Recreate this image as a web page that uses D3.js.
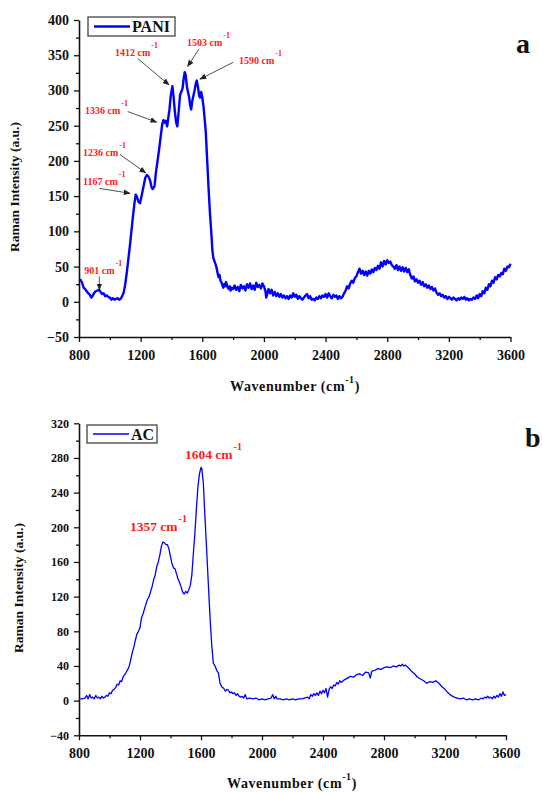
<!DOCTYPE html>
<html><head><meta charset="utf-8">
<script src="https://cdn.jsdelivr.net/npm/d3@7"></script>
<style>
body{margin:0;background:#fff}
svg{display:block}
text{font-family:"Liberation Serif","Times New Roman",serif;font-weight:bold}
</style>
</head><body>
<svg id="c" width="542" height="793"></svg>
<script>
// ---------- DATA ----------
const paniData = [
[800,30],[810,31],[820,27],[830,20],[840,18],[850,15],[860,12],[870,10],[880,6],[890,9],[900,13],[910,15],[920,16],[930,17],[940,14],[950,11],[960,12],[970,8],[980,9],[990,7],
[1000,6],[1010,3],[1020,5],[1030,3],[1040,4],[1050,5],[1060,3],[1070,4],[1080,8],[1090,13],[1100,25],[1110,41],[1120,60],[1130,79],[1140,100],[1150,121],[1160,140],[1168,152],[1176,149],[1186,142],
[1196,140],[1206,150],[1218,163],[1230,176],[1240,180],[1250,178],[1262,172],[1270,163],[1278,160],[1290,164],[1300,185],[1311,202],[1322,220],[1332,238],[1340,252],[1348,258],[1356,254],[1364,257],[1372,249],[1380,262],
[1387,273],[1395,292],[1406,306],[1414,290],[1422,270],[1430,255],[1438,249],[1446,268],[1456,294],[1464,298],[1472,303],[1480,318],[1486,326],[1492,322],[1500,306],[1508,297],[1515,290],[1522,278],[1528,273],[1535,285],
[1542,292],[1550,300],[1558,310],[1564,314],[1572,305],[1580,292],[1586,290],[1593,298],[1600,290],[1608,277],[1616,258],[1623,240],[1632,200],[1640,164],[1650,125],[1658,100],[1666,72],[1672,62],[1680,57],[1688,52],
[1694,47],[1700,40],[1706,35],[1712,38],[1718,30],[1724,28],[1730,24],[1736,20],[1742,25],[1748,22],[1754,28],[1760,24],[1766,20],[1772,18],[1778,22],[1784,16],[1790,20],[1796,19],
[1800,18],[1810,23],[1820,17],[1830,21],[1840,15],[1850,24],[1860,19],[1870,22],[1880,16],[1890,25],[1900,20],[1910,26],[1920,18],[1930,23],[1940,17],[1950,27],[1960,21],[1970,24],[1980,19],[1990,26],
[2000,22],[2010,15],[2015,6],[2020,10],[2030,18],[2040,12],[2050,17],[2060,9],[2070,14],[2080,8],[2090,12],[2100,7],[2110,11],[2120,6],[2130,9],[2140,5],[2150,8],[2160,4],[2170,9],[2180,6],
[2190,12],[2200,7],[2210,10],[2220,4],[2230,8],[2240,5],[2250,3],[2260,6],[2270,9],[2280,11],[2290,5],[2300,8],[2310,3],[2320,4],[2330,2],[2340,6],[2350,4],[2360,8],[2370,5],[2380,9],
[2390,7],[2400,11],[2410,6],[2420,12],[2430,8],[2440,5],[2450,10],[2460,7],[2470,9],[2480,4],[2490,8],[2500,5],[2510,7],[2520,12],[2530,16],[2540,22],[2550,19],[2560,26],[2570,30],[2580,27],
[2590,34],[2600,36],[2610,42],[2620,47],[2630,40],[2640,44],[2650,38],[2660,43],[2670,37],[2680,44],[2690,40],[2700,46],[2710,42],[2720,48],[2730,45],[2740,51],[2750,47],[2760,56],[2770,50],[2780,58],
[2790,53],[2800,59],[2810,55],[2820,57],[2830,52],[2840,50],[2850,47],[2860,52],[2870,45],[2880,50],[2890,44],[2900,49],[2910,43],[2920,48],[2930,42],[2940,46],[2950,38],[2960,33],[2970,36],[2980,29],
[2990,32],[3000,27],[3010,30],[3020,24],[3030,28],[3040,22],[3050,25],[3060,20],[3070,23],[3080,18],[3090,21],[3100,16],[3110,19],[3120,13],[3130,10],[3140,12],[3150,8],[3160,10],[3170,6],[3180,8],
[3190,4],[3200,7],[3210,5],[3220,3],[3230,6],[3240,4],[3250,2],[3260,5],[3270,3],[3280,6],[3290,4],[3300,7],[3310,3],[3320,5],[3330,2],[3340,4],[3350,3],[3360,6],[3370,4],[3380,9],
[3390,5],[3400,11],[3410,8],[3420,15],[3430,12],[3440,20],[3450,17],[3460,25],[3470,22],[3480,30],[3490,27],[3500,35],[3510,32],[3520,38],[3530,36],[3540,41],[3550,39],[3560,47],[3570,44],[3580,50],
[3590,49],[3600,54]
];

const acData = [
[800,2],[820,2],[840,3],[850,6],[860,2],[870,7],[880,3],[890,4],[900,2],[910,6],[920,3],[930,4],[940,2],[950,5],[960,3],[970,4],[980,6],[990,5],[1000,9],[1010,8],
[1020,12],[1030,13],[1040,15],[1050,19],[1060,18],[1070,23],[1080,22],[1090,28],[1100,30],[1110,33],[1120,36],[1130,40],[1140,48],[1150,56],[1160,62],[1170,70],[1180,77],[1190,80],[1200,84],[1210,96],
[1220,100],[1230,106],[1240,112],[1250,117],[1260,120],[1270,126],[1280,132],[1290,140],[1300,145],[1310,155],[1320,160],[1330,168],[1340,178],[1350,183],[1360,182],[1370,180],[1380,180],[1390,175],[1400,166],[1410,158],
[1420,153],[1430,152],[1440,146],[1450,140],[1460,136],[1470,131],[1480,125],[1490,123],[1500,126],[1510,124],[1520,128],[1530,133],[1540,145],[1550,170],[1560,193],[1570,222],[1580,247],[1590,262],[1600,269],[1605,268],
[1615,252],[1625,215],[1637,174],[1648,135],[1659,97],[1670,65],[1681,43],[1692,40],[1703,35],[1714,32],[1725,20],[1736,16],[1750,14],[1760,11],[1770,13],[1780,12],[1790,9],[1800,10],[1810,8],[1820,9],
[1830,6],[1840,8],[1850,5],[1860,4],[1870,5],[1880,3],[1890,7],[1900,2],[1920,3],[1940,2],[1960,3],[1980,1],[2000,2],[2020,1],[2040,2],[2060,3],[2070,7],[2080,2],[2090,5],[2100,2],
[2120,2],[2140,1],[2160,2],[2180,1],[2200,2],[2220,1],[2240,2],[2260,2],[2280,3],[2300,4],[2310,2],[2320,7],[2330,5],[2340,8],[2350,6],[2360,9],[2370,6],[2380,11],[2390,8],[2400,12],
[2410,9],[2420,14],[2430,4],[2440,13],[2450,16],[2460,14],[2470,18],[2480,17],[2490,21],[2500,19],[2510,23],[2520,21],[2540,24],[2560,26],[2580,28],[2600,27],[2620,30],[2640,31],[2660,29],[2680,33],
[2700,32],[2710,26],[2720,34],[2740,35],[2760,37],[2780,36],[2800,38],[2820,39],[2840,38],[2860,40],[2880,39],[2900,41],[2910,40],[2920,42],[2930,40],[2940,41],[2960,38],[2980,34],[3000,31],[3020,27],
[3040,25],[3060,23],[3080,20],[3100,22],[3120,21],[3140,23],[3160,20],[3180,16],[3200,13],[3220,9],[3240,6],[3260,4],[3280,3],[3300,2],[3320,3],[3340,1],[3360,2],[3380,1],[3400,2],[3420,1],
[3440,3],[3450,2],[3460,4],[3470,3],[3480,5],[3490,3],[3500,4],[3510,2],[3520,5],[3530,3],[3540,6],[3550,4],[3560,8],[3570,5],[3580,10],[3590,6],[3600,7]
];

const xTicks = [800,1200,1600,2000,2400,2800,3200,3600];
const xMinorTicks = [1000,1400,1800,2200,2600,3000,3400];
const paniYTicks = [-50,0,50,100,150,200,250,300,350,400];
const paniYMinor = [-25,25,75,125,175,225,275,325,375];
const acYTicks = [-40,0,40,80,120,160,200,240,280,320];
const acYMinor = [-20,20,60,100,140,180,220,260,300];

// annotation label: text position (tw,tv), arrow start (aw1,av1), arrow tip (aw2,av2) in data units
const paniLabels = [
  {t:"1412 cm", tw:1034, tv:349, aw1:1183, av1:345, aw2:1384, av2:308},
  {t:"1503 cm", tw:1501, tv:363, aw1:1579, av1:359, aw2:1505, av2:334},
  {t:"1590 cm", tw:1838, tv:337, aw1:1801, av1:340, aw2:1585, av2:316},
  {t:"1336 cm", tw:839,  tv:266, aw1:1116, av1:270, aw2:1304, av2:255},
  {t:"1236 cm", tw:826,  tv:207, aw1:1066, av1:209, aw2:1233, av2:183},
  {t:"1167 cm", tw:826,  tv:166, aw1:932,  av1:161, aw2:1131, av2:154},
  {t:"901 cm",  tw:834,  tv:40,  aw1:932,  av1:36,  aw2:932,  av2:17}
];
const acLabels = [
  {t:"1357 cm", tw:1134, tv:195.5},
  {t:"1604 cm", tw:1495, tv:279}
];

// ---------- DRAW ----------
const svg = d3.select("#c");
svg.append("rect").attr("width",542).attr("height",793).attr("fill","#fff");

const defs = svg.append("defs");
defs.append("marker").attr("id","arr").attr("viewBox","0 0 10 10").attr("refX",9).attr("refY",5)
  .attr("markerWidth",7).attr("markerHeight",7).attr("markerUnits","userSpaceOnUse").attr("orient","auto")
  .append("path").attr("d","M0,1 L10,5 L0,9 Z").attr("fill","#222");

function panel(o){
  const x = d3.scaleLinear().domain([800,3600]).range(o.xr);
  const y = d3.scaleLinear().domain(o.yd).range(o.yr);
  const g = svg.append("g");
  // minor ticks
  g.append("g").attr("transform",`translate(0,${o.yr[0]})`)
    .call(d3.axisBottom(x).tickValues(xMinorTicks).tickSize(3).tickFormat(""))
    .call(a=>a.select(".domain").remove());
  g.append("g").attr("transform",`translate(${o.xr[0]},0)`)
    .call(d3.axisLeft(y).tickValues(o.yMinor).tickSize(3).tickFormat(""))
    .call(a=>a.select(".domain").remove());
  const xa = g.append("g").attr("transform",`translate(0,${o.yr[0]})`)
    .call(d3.axisBottom(x).tickValues(xTicks).tickSize(5).tickSizeOuter(0).tickPadding(8).tickFormat(d3.format("d")));
  const ya = g.append("g").attr("transform",`translate(${o.xr[0]},0)`)
    .call(d3.axisLeft(y).tickValues(o.yTicks).tickSize(5).tickSizeOuter(0).tickPadding(5).tickFormat(d3.format("d")));
  xa.selectAll("text").attr("font-size",o.xfs).attr("fill","#111").attr("font-family",null);
  ya.selectAll("text").attr("font-size",o.yfs).attr("fill","#111").attr("font-family",null);
  [xa,ya].forEach(a=>{
    a.select(".domain").attr("stroke","#111").attr("stroke-width",1.6);
  });
  g.selectAll(".tick line").attr("stroke","#111").attr("stroke-width",1.3);

  // data line
  const line = d3.line().x(d=>x(d[0])).y(d=>y(d[1]));
  g.append("path").datum(o.data).attr("d",line).attr("fill","none")
    .attr("stroke","#0000ff").attr("stroke-width",o.lw).attr("stroke-linejoin","round");

  // axis titles
  const yt = g.append("text").attr("transform",`translate(${o.ytx},${o.yty}) rotate(-90)`)
    .attr("text-anchor","middle").attr("font-size",13.5).attr("fill","#111")
    .text("Raman Intensity (a.u.)");
  const xt = g.append("text").attr("x",o.xtx).attr("y",o.xty).attr("text-anchor","middle")
    .attr("font-size",14).attr("fill","#111").attr("letter-spacing",0.6);
  xt.append("tspan").text("Wavenumber (cm");
  xt.append("tspan").attr("font-size",10).attr("dy",-8).text("-1");
  xt.append("tspan").attr("dy",8).text(")");

  // legend
  const lg = g.append("g");
  lg.append("rect").attr("x",o.leg[0]).attr("y",o.leg[1]).attr("width",o.leg[2]).attr("height",o.leg[3])
    .attr("fill","#fff").attr("stroke","#444").attr("stroke-width",1.3);
  const ly = o.leg[1]+o.leg[3]/2;
  lg.append("line").attr("x1",o.leg[0]+6).attr("x2",o.leg[0]+42).attr("y1",ly).attr("y2",ly)
    .attr("stroke","#0000ff").attr("stroke-width",o.lw);
  lg.append("text").attr("x",o.leg[0]+44).attr("y",ly+5.5).attr("font-size",16).attr("fill","#111").text(o.name);

  // panel letter
  g.append("text").attr("x",o.letter[0]).attr("y",o.letter[1]).attr("font-size",28).attr("fill","#111").text(o.letter[2]);
  return {x,y,g};
}

const P = panel({xr:[79,510.5], yd:[-50,400], yr:[337,20], yTicks:paniYTicks, yMinor:paniYMinor,
  data:paniData, lw:2.4, xfs:14, yfs:14, ytx:19, yty:187, xtx:295, xty:391,
  leg:[88,17,87,19], name:"PANI", letter:[516,53,"a"]});

const B = panel({xr:[79,506], yd:[-40,320], yr:[735.3,423.3], yTicks:acYTicks, yMinor:acYMinor,
  data:acData, lw:1.3, xfs:14, yfs:12, ytx:23, yty:588, xtx:292, xty:788,
  leg:[87,425,70,18], name:"AC", letter:[525,446.5,"b"]});

// PANI annotations
paniLabels.forEach(d=>{
  P.g.append("line").attr("x1",P.x(d.aw1)).attr("y1",P.y(d.av1)).attr("x2",P.x(d.aw2)).attr("y2",P.y(d.av2))
    .attr("stroke","#222").attr("stroke-width",0.8).attr("marker-end","url(#arr)");
  const t = P.g.append("text").attr("x",P.x(d.tw)).attr("y",P.y(d.tv)).attr("font-size",10).attr("fill","#ff2020");
  t.append("tspan").text(d.t);
  t.append("tspan").attr("font-size",8).attr("dy",-8).attr("dx",1).text("-1");
});
// AC annotations
acLabels.forEach(d=>{
  const t = B.g.append("text").attr("x",B.x(d.tw)).attr("y",B.y(d.tv)).attr("font-size",13.5).attr("fill","#ff1a1a");
  t.append("tspan").text(d.t);
  t.append("tspan").attr("font-size",10).attr("dy",-9).attr("dx",1).text("-1");
});
</script>
</body></html>
